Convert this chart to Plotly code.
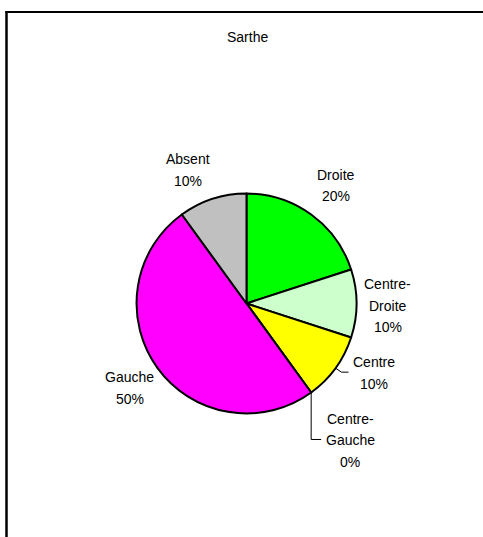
import math
import plotly.graph_objects as go

W, H = 483, 537

title = "Sarthe"
labels = ["Droite", "Centre-Droite", "Centre", "Centre-Gauche", "Gauche", "Absent"]
values = [20, 10, 10, 0, 50, 10]
colors = ["#00FF00", "#CCFFCC", "#FFFF00", "#FF99CC", "#FF00FF", "#C0C0C0"]

# pie geometry in pixels (centre and radius)
cx, cy, R = 246.5, 303.5, 110

# label block centre, offset from the rim point at each slice's mid-angle
label_offsets = [(25, -29), (31, 2), (39, 5), (39, 48), (-28, 20), (-25, -29)]
# leader lines: rim point -> elbow -> end, as offsets from the rim point
leaders = {2: [(6, 4), (13, 4)], 3: [(0, 47), (10, 47)]}
LINE_H = 21.5

font = dict(family="Liberation Sans, Arial, sans-serif", size=14, color="#000000")


def px(x):
    return x / W


def py(y):
    return 1 - y / H


fig = go.Figure(go.Pie(
    labels=labels,
    values=values,
    sort=False,
    direction="clockwise",
    rotation=0,
    marker=dict(colors=colors, line=dict(color="#000000", width=2)),
    textinfo="none",
    hoverinfo="label+percent",
    showlegend=False,
    domain=dict(x=[px(cx - R), px(cx + R)], y=[py(cy + R), py(cy - R)]),
))

total = sum(values)
annotations = [dict(text=title, x=px(247.5), y=py(37), xref="paper", yref="paper",
                    xanchor="center", yanchor="middle", showarrow=False, font=font)]
shapes = [
    dict(type="line", xref="paper", yref="paper", x0=px(6.5), x1=px(6.5), y0=0, y1=py(11),
         line=dict(color="#000000", width=2.5)),
    dict(type="line", xref="paper", yref="paper", x0=px(5.5), x1=1, y0=py(12), y1=py(12),
         line=dict(color="#000000", width=2)),
]

start = 0.0
for i, (lab, v) in enumerate(zip(labels, values)):
    frac = v / total
    mid = 2 * math.pi * (start + frac / 2)
    start += frac
    ex, ey = cx + R * math.sin(mid), cy - R * math.cos(mid)

    lines = lab.replace("-", "-\n").split("\n") + [f"{round(100 * frac)}%"]
    lx, ly = ex + label_offsets[i][0], ey + label_offsets[i][1]
    n = len(lines)
    for k, t in enumerate(lines):
        yk = ly + (k - (n - 1) / 2) * LINE_H
        annotations.append(dict(text=t, x=px(lx), y=py(yk), xref="paper", yref="paper",
                                xanchor="center", yanchor="middle", showarrow=False, font=font))

    if i in leaders:
        pts = [(ex, ey)] + [(ex + dx, ey + dy) for dx, dy in leaders[i]]
        path = "M " + " L ".join(f"{px(x)},{py(y)}" for x, y in pts)
        shapes.append(dict(type="path", xref="paper", yref="paper", path=path,
                           line=dict(color="#000000", width=1)))

fig.update_layout(
    width=W, height=H,
    margin=dict(l=0, r=0, t=0, b=0),
    paper_bgcolor="#FFFFFF",
    plot_bgcolor="#FFFFFF",
    annotations=annotations,
    shapes=shapes,
)

fig.write_html("out.html")
